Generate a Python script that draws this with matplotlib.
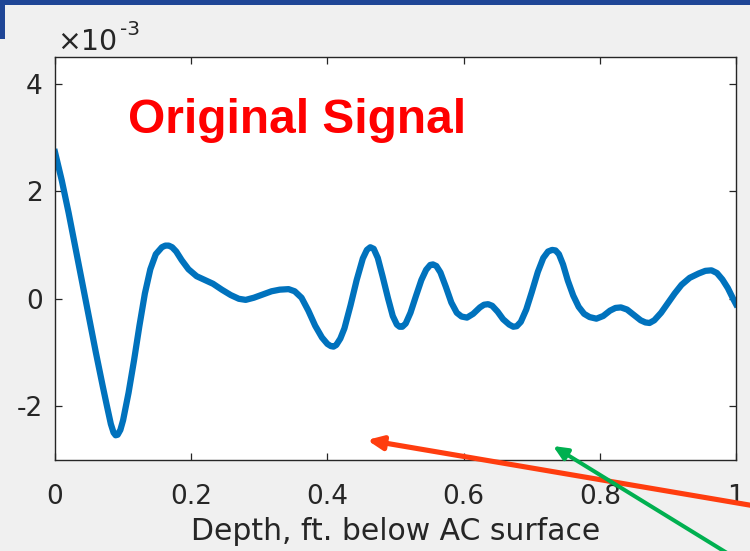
import matplotlib
matplotlib.use("Agg")
import matplotlib.pyplot as plt
from matplotlib.patches import Rectangle

plt.rcParams["axes.unicode_minus"] = False
plt.rcParams["font.family"] = ["DejaVu Sans"]

# Depth below the AC surface (ft) and recorded signal amplitude (x 10^-3)
depth = [
    0.000, 0.010, 0.020, 0.030, 0.040, 0.050, 0.060, 0.070, 0.076, 0.082,
    0.086, 0.089, 0.092, 0.096, 0.100, 0.108, 0.116, 0.124, 0.132, 0.140,
    0.148, 0.157, 0.162, 0.167, 0.172, 0.178, 0.186, 0.196, 0.208, 0.220,
    0.232, 0.245, 0.258, 0.270, 0.280, 0.292, 0.305, 0.318, 0.330, 0.343,
    0.352, 0.362, 0.372, 0.382, 0.392, 0.400, 0.405, 0.409, 0.413, 0.419,
    0.425, 0.434, 0.443, 0.452, 0.458, 0.463, 0.468, 0.474, 0.481, 0.489,
    0.496, 0.502, 0.506, 0.510, 0.515, 0.522, 0.530, 0.538, 0.545, 0.551,
    0.555, 0.560, 0.566, 0.574, 0.582, 0.590, 0.597, 0.605, 0.614, 0.624,
    0.630, 0.636, 0.642, 0.650, 0.658, 0.667, 0.673, 0.678, 0.684, 0.692,
    0.700, 0.709, 0.717, 0.724, 0.730, 0.735, 0.740, 0.746, 0.753, 0.761,
    0.769, 0.777, 0.785, 0.795, 0.805, 0.815, 0.823, 0.831, 0.840, 0.850,
    0.860, 0.867, 0.873, 0.880, 0.890, 0.900, 0.910, 0.920, 0.932, 0.945,
    0.955, 0.964, 0.972, 0.980, 0.988, 0.995, 1.000,
]
signal_milli = [
    2.73, 2.20, 1.60, 0.95, 0.30, -0.35, -1.00, -1.62, -1.98, -2.33,
    -2.49, -2.54, -2.53, -2.44, -2.26, -1.75, -1.15, -0.50, 0.10, 0.55,
    0.83, 0.96, 0.99, 0.99, 0.96, 0.88, 0.72, 0.55, 0.42, 0.35,
    0.28, 0.17, 0.07, 0.00, -0.02, 0.02, 0.08, 0.14, 0.17, 0.18,
    0.14, 0.02, -0.22, -0.50, -0.72, -0.84, -0.88, -0.89, -0.86, -0.74,
    -0.55, -0.12, 0.35, 0.75, 0.91, 0.96, 0.93, 0.76, 0.42, 0.01,
    -0.32, -0.48, -0.52, -0.52, -0.46, -0.26, 0.05, 0.35, 0.54, 0.63,
    0.64, 0.61, 0.49, 0.22, -0.07, -0.26, -0.33, -0.35, -0.28, -0.16,
    -0.11, -0.10, -0.13, -0.24, -0.38, -0.48, -0.52, -0.51, -0.43, -0.20,
    0.12, 0.50, 0.76, 0.88, 0.91, 0.90, 0.83, 0.64, 0.34, 0.06,
    -0.15, -0.28, -0.34, -0.37, -0.32, -0.22, -0.17, -0.16, -0.20, -0.30,
    -0.40, -0.44, -0.45, -0.40, -0.26, -0.08, 0.10, 0.26, 0.39, 0.47,
    0.52, 0.53, 0.48, 0.36, 0.20, 0.02, -0.10,
]
signal = [v * 1e-3 for v in signal_milli]

x_ticks = [0, 0.2, 0.4, 0.6, 0.8, 1.0]
x_tick_labels = ["0", "0.2", "0.4", "0.6", "0.8", "1"]
y_ticks = [-2e-3, 0, 2e-3, 4e-3]
y_tick_labels = ["-2", "0", "2", "4"]

axis_color = "#262626"
line_color = "#0072BD"
W, H = 750, 551

fig = plt.figure(figsize=(W / 100, H / 100), dpi=100, facecolor="#f0f0f0")

# slide header band
fig.patches.append(Rectangle((0, 1 - 5 / H), 1, 5 / H, transform=fig.transFigure,
                             facecolor="#1f4696", edgecolor="none", zorder=0))
fig.patches.append(Rectangle((0, 1 - 39 / H), 5 / W, 39 / H, transform=fig.transFigure,
                             facecolor="#1f4696", edgecolor="none", zorder=0))

ax = fig.add_axes([55 / W, 91 / H, 681 / W, 403 / H])
ax.set_facecolor("white")
ax.plot(depth, signal, color=line_color, lw=4.5, solid_joinstyle="round")

ax.set_xlim(0, 1)
ax.set_ylim(-3e-3, 4.5e-3)
ax.set_xticks(x_ticks)
ax.set_xticklabels(x_tick_labels)
ax.set_yticks(y_ticks)
ax.set_yticklabels(y_tick_labels)

for s in ax.spines.values():
    s.set_color(axis_color)
    s.set_linewidth(1.0)

ax.tick_params(axis="both", direction="in", length=5, width=0.9, color=axis_color,
               labelcolor=axis_color, labelsize=19, top=True, right=True)
ax.tick_params(axis="x", pad=17)
ax.tick_params(axis="y", pad=9)

ax.set_xlabel("Depth, ft. below AC surface", fontsize=21.5, color=axis_color, labelpad=5)

# axis multiplier
fig.text(57 / W, (H - 50) / H, "\u00d710", fontsize=20.5, color=axis_color,
         va="baseline", ha="left")
fig.text(120 / W, (H - 35) / H, "-3", fontsize=14.5, color=axis_color,
         va="baseline", ha="left")

ax.text(0.107, 3.09e-3, "Original Signal", color="#ff0000", fontsize=34.5,
        fontweight="bold", family="Liberation Sans", va="baseline", ha="left")

# callout arrows
ax.annotate("", xy=(367 / W, 111 / H), xycoords="figure fraction",
            xytext=(755 / W, 45 / H), textcoords="figure fraction",
            arrowprops=dict(arrowstyle="-|>,head_length=0.9,head_width=0.4",
                            color="#ff3d0f", lw=3.7, shrinkA=0, shrinkB=0),
            annotation_clip=False)
ax.annotate("", xy=(553 / W, 105 / H), xycoords="figure fraction",
            xytext=(727 / W, -2 / H), textcoords="figure fraction",
            arrowprops=dict(arrowstyle="-|>,head_length=0.85,head_width=0.38",
                            color="#00b050", lw=2.9, shrinkA=0, shrinkB=0),
            annotation_clip=False)

fig.savefig("out.png", dpi=100, facecolor=fig.get_facecolor())
